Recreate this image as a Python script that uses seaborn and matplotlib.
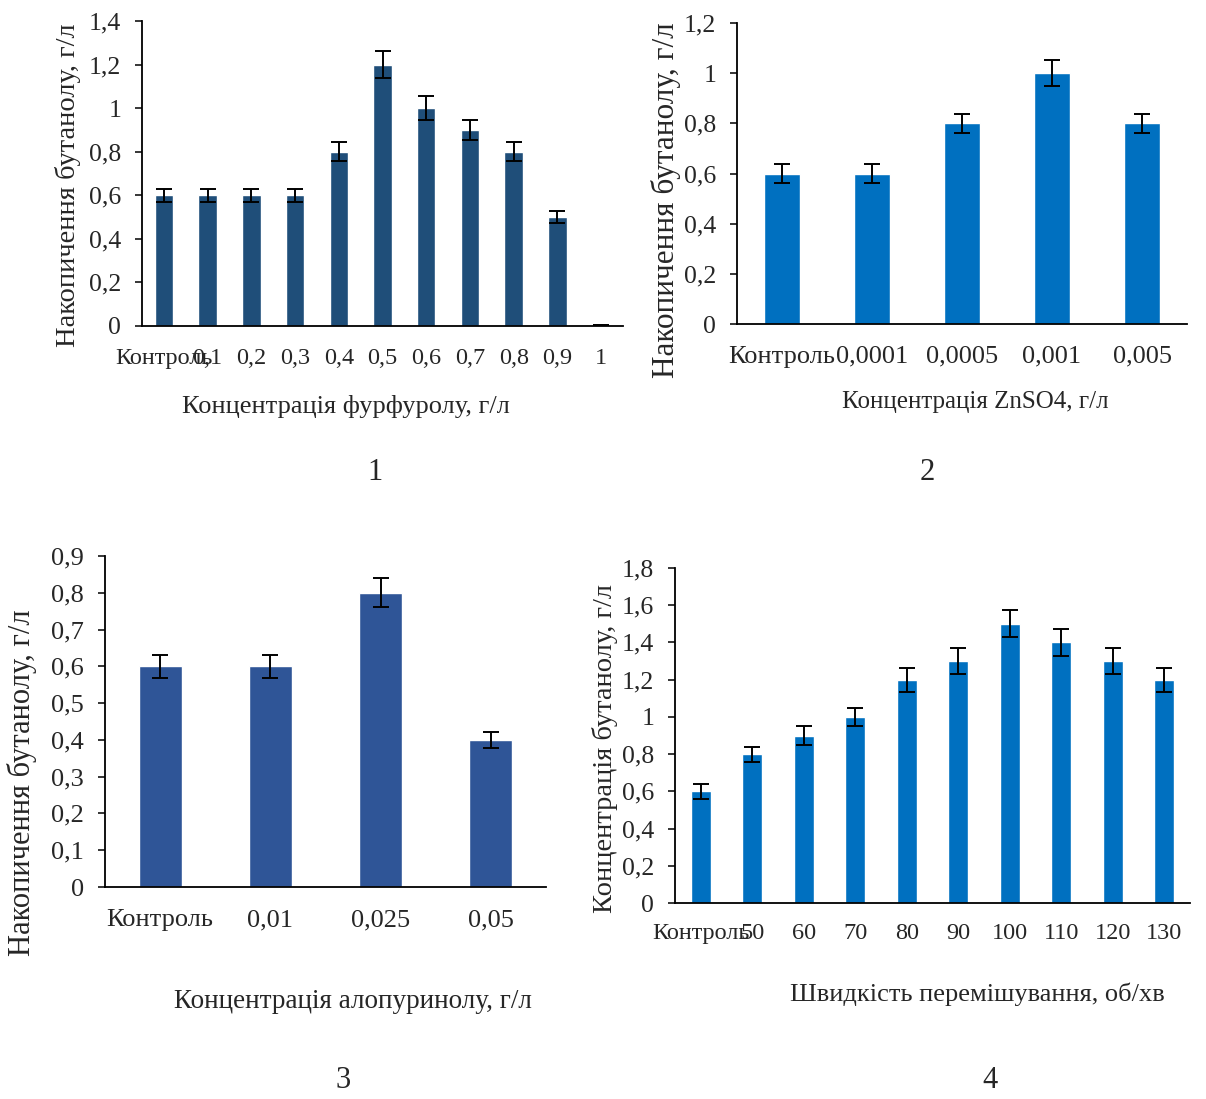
import numpy as np
import pandas as pd
import matplotlib
matplotlib.use('Agg')
import matplotlib.pyplot as plt
from matplotlib.ticker import FuncFormatter, FixedLocator
import seaborn as sns

sns.set_style('white')
plt.rcParams['font.family'] = ['Liberation Serif', 'DejaVu Serif']

W, H = 1206, 1099

# 1 - фурфурол
furf_labels = ['Контроль', '0,1', '0,2', '0,3', '0,4', '0,5', '0,6', '0,7', '0,8', '0,9', '1']
furf_vals = [0.6, 0.6, 0.6, 0.6, 0.8, 1.2, 1.0, 0.9, 0.8, 0.5, 0.005]
furf_err = [0.03, 0.03, 0.03, 0.03, 0.044, 0.063, 0.055, 0.044, 0.044, 0.026, 0.0]

# 2 - ZnSO4
zn_labels = ['Контроль', '0,0001', '0,0005', '0,001', '0,005']
zn_vals = [0.6, 0.6, 0.8, 1.0, 0.8]
zn_err = [0.037, 0.037, 0.038, 0.053, 0.038]

# 3 - алопуринол
allo_labels = ['Контроль', '0,01', '0,025', '0,05']
allo_vals = [0.6, 0.6, 0.8, 0.4]
allo_err = [0.031, 0.031, 0.04, 0.021]

# 4 - швидкість перемішування
speed_labels = ['Контроль', '50', '60', '70', '80', '90', '100', '110', '120', '130']
speed_vals = [0.6, 0.8, 0.9, 1.0, 1.2, 1.3, 1.5, 1.4, 1.3, 1.2]
speed_err = [0.04, 0.04, 0.05, 0.05, 0.065, 0.07, 0.073, 0.073, 0.07, 0.065]

comma = FuncFormatter(lambda v, p: f'{v:g}'.replace('.', ','))

fig = plt.figure(figsize=(W / 100, H / 100), dpi=100)


def panel(box, labels, vals, errs, color, width, ymax, ystep, ylabel, xlabel,
          ylab_px, xlab_px, xpad, fs_xt, fs_yt, fs_xl, fs_yl):
    left, top, right, bottom = box
    ax = fig.add_axes([left / W, 1 - bottom / H, (right - left) / W, (bottom - top) / H])
    df = pd.DataFrame({'cat': labels, 'val': vals})
    sns.barplot(data=df, x='cat', y='val', ax=ax, color=color, width=width,
                saturation=1, errorbar=None)
    ax.errorbar(np.arange(len(vals)), vals, yerr=errs, fmt='none',
                ecolor='black', elinewidth=1.4, capsize=5.5, capthick=1.4)
    n = len(labels)
    ax.set_xlim(-0.5, n - 0.5)
    ax.set_ylim(0, ymax)
    ax.set_yticks(np.arange(0, ymax + ystep / 2, ystep))
    ax.yaxis.set_major_formatter(comma)
    ax.xaxis.set_minor_locator(FixedLocator(np.arange(-0.5, n, 1.0)))
    ax.tick_params(axis='x', which='major', length=0, pad=xpad, labelsize=fs_xt)
    ax.tick_params(axis='x', which='minor', length=7, width=1.1, color='black', direction='out')
    ax.tick_params(axis='y', length=5, width=1.1, color='black', direction='out', pad=10,
                   labelsize=fs_yt, left=True)
    for s in ['top', 'right']:
        ax.spines[s].set_visible(False)
    for s in ['left', 'bottom']:
        ax.spines[s].set_color('black')
        ax.spines[s].set_linewidth(1.3)
    ax.set_ylabel(ylabel, fontsize=fs_yl)
    ax.set_xlabel(xlabel, fontsize=fs_xl)
    # positions of axis labels, given in pixels of the figure
    ax.yaxis.set_label_coords((ylab_px[0] + 13 - left) / (right - left),
                              (bottom - ylab_px[1]) / (bottom - top))
    ax.xaxis.set_label_coords((xlab_px[0] - left) / (right - left),
                              (bottom - xlab_px[1] + 13) / (bottom - top))
    return ax


panel((142, 21, 623, 326), furf_labels, furf_vals, furf_err, '#1F4E79', 0.42, 1.4, 0.2,
      'Накопичення бутанолу, г/л', 'Концентрація фурфуролу, г/л', (68, 185), (346, 408), 15.5,
      17.5, 18.5, 19, 20.5)
panel((737, 23, 1187, 324), zn_labels, zn_vals, zn_err, '#0070C0', 0.41, 1.2, 0.2,
      'Накопичення бутанолу, г/л', 'Концентрація ZnSO4, г/л', (668, 200), (975, 404), 15.5,
      19, 18.5, 18, 22.5)
panel((105, 556, 546, 887), allo_labels, allo_vals, allo_err, '#2F5597', 0.39, 0.9, 0.1,
      'Накопичення бутанолу, г/л', 'Концентрація алопуринолу, г/л', (24, 783), (353, 1002), 16,
      19, 19, 19.5, 22)
panel((675, 568, 1190, 903), speed_labels, speed_vals, speed_err, '#0070C0', 0.39, 1.8, 0.2,
      'Концентрація бутанолу, г/л', 'Швидкість перемішування, об/хв', (605, 748), (977, 995), 14.5,
      17.5, 18.5, 19, 20.5)

for num, (x, y) in zip(['1', '2', '3', '4'], [(375, 472), (927, 472), (343, 1080), (990, 1080)]):
    fig.text(x / W, 1 - y / H, num, ha='center', va='center', fontsize=22)

fig.savefig('out.png', dpi=100, facecolor='white')
